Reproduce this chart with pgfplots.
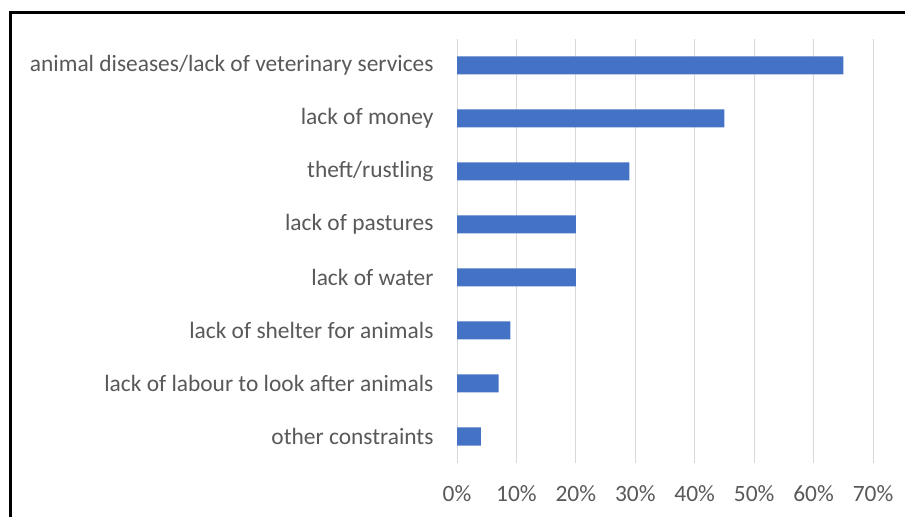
\documentclass[border=0pt]{standalone}
\usepackage{pgfplots}
\pgfplotsset{compat=1.18}
\usepackage{fontspec}
\setmainfont{Carlito}
\definecolor{barblue}{HTML}{4472C4}
\definecolor{txtgray}{HTML}{595959}
\definecolor{gridgray}{HTML}{D9D9D9}
\begin{document}
\begin{tikzpicture}
\clip (0,0) rectangle (905bp,517bp);
\useasboundingbox (0,0) rectangle (905bp,517bp);
\fill[white] (0,0) rectangle (905bp,517bp);
\draw[line width=3bp] (10bp,-20bp) |- (930bp,504bp);
\begin{axis}[
  at={(457bp,54bp)}, anchor=south west,
  scale only axis, width=416bp, height=424bp,
  xmin=0, xmax=70, ymin=-0.5, ymax=7.5,
  xbar, bar width=18bp,
  axis line style={draw=none},
  major tick length=0pt,
  xtick={0,10,...,70},
  xticklabel={\pgfmathprintnumber{\tick}\%},
  /pgf/number format/assume math mode=true,
  ytick={0,...,7},
  yticklabels={other constraints,lack of labour to look after animals,lack of shelter for animals,lack of water,lack of pastures,theft/rustling,lack of money,animal diseases/lack of veterinary services},
  ticklabel style={font=\fontsize{23.5}{28}\selectfont, text=txtgray},
  yticklabel style={xshift=-20bp},
  xticklabel style={yshift=-19bp},
  xmajorgrids, grid style={gridgray, line width=1bp},
]
\addplot[fill=barblue, draw=none] coordinates {(4,0) (7,1) (9,2) (20,3) (20,4) (29,5) (45,6) (65,7)};
\end{axis}
\end{tikzpicture}
\end{document}
